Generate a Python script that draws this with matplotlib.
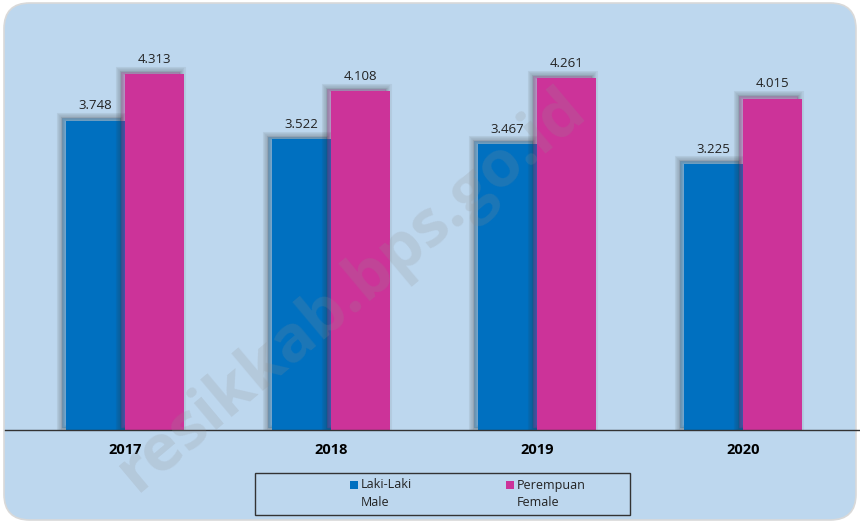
import matplotlib
matplotlib.use("Agg")
import matplotlib.pyplot as plt
import numpy as np
from matplotlib.patches import FancyBboxPatch, Rectangle
import matplotlib.patheffects as pe

years = ["2017", "2018", "2019", "2020"]
male = [3.748, 3.522, 3.467, 3.225]
female = [4.313, 4.108, 4.261, 4.015]
male_label = "Laki-Laki\nMale"
female_label = "Perempuan\nFemale"
watermark = "resikkab.bps.go.id"

BLUE = "#0070C0"
PINK = "#CC3399"
BG = "#BDD7EE"
FONT = ["Open Sans", "DejaVu Sans"]

W, H = 860, 523
fig = plt.figure(figsize=(W / 100, H / 100), dpi=100)
fig.patch.set_facecolor("white")

bg = FancyBboxPatch((4 / W, 3 / H), (W - 8) / W, (H - 6) / H,
                    boxstyle="round,pad=0,rounding_size=0.03",
                    transform=fig.transFigure, facecolor=BG,
                    edgecolor="#D9D9D9", linewidth=1.2, zorder=-5,
                    mutation_aspect=W / H)
fig.patches.append(bg)

# axes: bottom at y=430px, top at y=10px; x from 5 to 860px
ax = fig.add_axes([5 / W, (H - 430) / H, 855 / W, 420 / H])
ax.patch.set_alpha(0)
x = np.arange(len(years))
bw = 0.286
shadow = [pe.Stroke(offset=(-2.8, 1.8), linewidth=lw, foreground="#303030", alpha=0.07)
          for lw in (8, 6, 4, 2.5, 1.2)] + [pe.Normal()]
b1 = ax.bar(x - bw / 2, male, bw, color=BLUE, zorder=3, path_effects=shadow, linewidth=0)
b2 = ax.bar(x + bw / 2, female, bw, color=PINK, zorder=3, path_effects=shadow, linewidth=0)

for bars, vals in ((b1, male), (b2, female)):
    for r, v in zip(bars, vals):
        ax.annotate(f"{v:.3f}", (r.get_x() + r.get_width() / 2, r.get_height()),
                    xytext=(0, 6), textcoords="offset points", ha="center", va="bottom",
                    fontsize=9.5, family=FONT, color="#222222")

# x positions: group centers at 125px, spacing 206px
left = (5 - 125) / 206
right = (860 - 125) / 206
ax.set_xlim(left, right)
ax.set_ylim(0, 420 / 82.5)
for s in ("top", "right", "left"):
    ax.spines[s].set_visible(False)
ax.spines["bottom"].set_color("#333333")
ax.spines["bottom"].set_linewidth(1.0)
ax.spines["bottom"].set_zorder(5)
ax.set_yticks([])
ax.set_xticks(x)
ax.set_xticklabels(years, fontsize=10.5, fontweight="bold", family=FONT)
ax.tick_params(axis="x", length=0, pad=9)

# legend box
lx0, lx1, ly0, ly1 = 255, 630, 473, 515
fig.patches.append(Rectangle((lx0 / W, (H - ly1) / H), (lx1 - lx0) / W, (ly1 - ly0) / H,
                             transform=fig.transFigure, facecolor="none",
                             edgecolor="#333333", linewidth=1.0, zorder=5))
for sx, col, lab in ((350, BLUE, male_label), (506, PINK, female_label)):
    fig.patches.append(Rectangle((sx / W, (H - 489) / H), 8 / W, 8 / H,
                                 transform=fig.transFigure, facecolor=col,
                                 edgecolor="none", zorder=6))
    l1, l2 = lab.split("\n")
    fig.text((sx + 11) / W, (H - 485) / H, l1, fontsize=9, family=FONT,
             va="center", ha="left", color="#222222")
    fig.text((sx + 11) / W, (H - 502) / H, l2, fontsize=9, family=FONT,
             va="center", ha="left", color="#222222")

fig.text(352 / W, (H - 290) / H, watermark, fontsize=47, fontweight="bold",
         family=FONT, color="#909090", alpha=0.2, rotation=40,
         ha="center", va="center", zorder=10)

fig.savefig("out.png", dpi=100, facecolor="white")
